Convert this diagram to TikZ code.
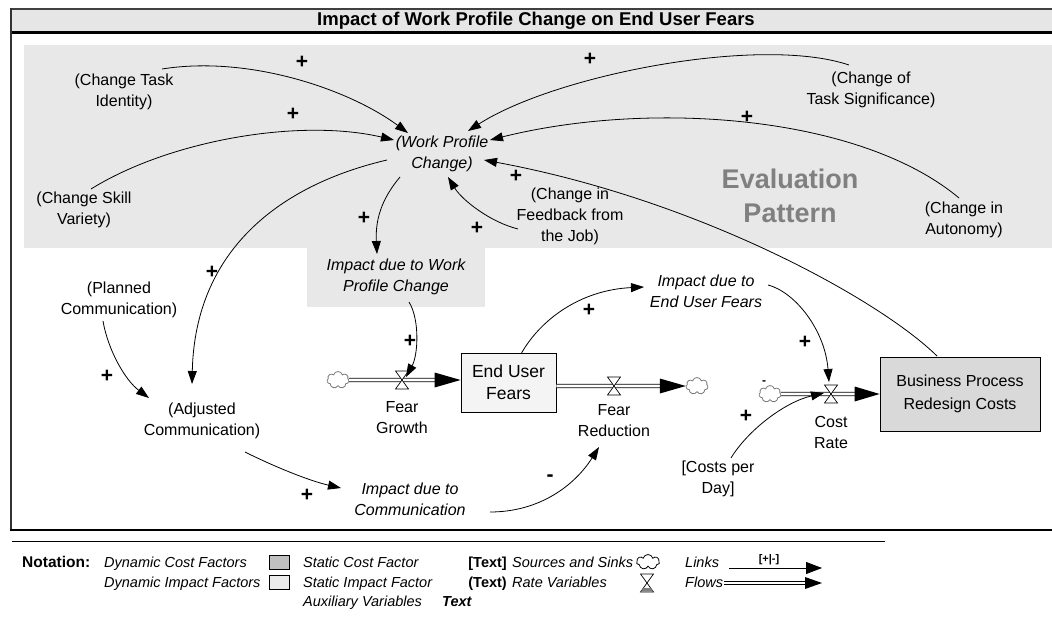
\documentclass[tikz,border=0pt]{standalone}
\usepackage{fontspec}
\setmainfont{Liberation Sans}
\usetikzlibrary{arrows.meta,calc,shapes.symbols}
\definecolor{bandgray}{HTML}{E6E6E6}
\definecolor{regiongray}{HTML}{E8E8E8}
\definecolor{stockfill}{HTML}{F4F4F4}
\definecolor{costfill}{HTML}{D9D9D9}
\definecolor{legdark}{HTML}{C0C0C0}
\definecolor{leglight}{HTML}{EBEBEB}
\definecolor{evalgray}{HTML}{808080}
\definecolor{cloudgray}{HTML}{7A7A7A}
\newcommand\drawvalve[1]{\filldraw[fill=white, line width=0.7pt] ($(#1)+(-6.5,-9)$) -- ($(#1)+(6.5,-9)$) -- ($(#1)+(-6.5,9)$) -- ($(#1)+(6.5,9)$) -- cycle;}
\begin{document}
\begin{tikzpicture}[x=1pt,y=-1pt,
  lbl/.style={align=center, font=\fontsize{16}{21}\selectfont, inner sep=1pt},
  ilbl/.style={align=center, font=\fontsize{16}{21}\selectfont\itshape, inner sep=1pt},
  sign/.style={font=\fontsize{21}{21}\selectfont\bfseries, inner sep=0pt},
  link/.style={-{Triangle[length=13pt,width=9pt]}, line width=0.8pt},
  legarrow/.style={-{Triangle[length=16pt,width=12pt]}, line width=0.8pt},
  flowline/.style={draw=black, line width=0.8pt, double=white, double distance=2.6pt},
  legtext/.style={anchor=base west, font=\fontsize{14.5}{18}\selectfont\itshape, inner sep=0pt},
  legbold/.style={anchor=base east, font=\fontsize{14.5}{18}\selectfont\bfseries, inner sep=0pt},
  srcsink/.style={cloud, cloud puffs=7, draw=cloudgray, fill=white, line width=0.8pt, minimum width=22pt, minimum height=17pt, inner sep=0pt, aspect=1.3},
  stock/.style={draw, line width=0.8pt, align=center, inner sep=0pt}
]
\useasboundingbox (0,0) rectangle (1052,623);
% frame
\fill[bandgray] (11,9) rectangle (1052,32);
\draw[line width=2pt, black!75] (11,9) -- (1052,9);
\draw[line width=3pt] (11,33) -- (1052,33);
\draw[line width=1.5pt, black!80] (11,8) -- (11,530);
\draw[line width=2.5pt] (10,530) -- (1052,530);
\draw[line width=1pt] (12,541) -- (885,541);
\node[font=\fontsize{18.5}{20}\selectfont\bfseries] (title) at (536,20.5) {Impact of Work Profile Change on End User Fears};
% evaluation pattern region
\fill[regiongray] (24,45) rectangle (1052,248);
\node[fill=regiongray, minimum width=178pt, minimum height=59pt, inner sep=0pt, align=center, font=\fontsize{16}{21}\selectfont\itshape] (iwpc) at (396,277) {Impact due to Work\\Profile Change};
\node[font=\fontsize{27}{34}\selectfont\bfseries, text=evalgray, align=center] (eval) at (790,196) {Evaluation\\Pattern};
% text nodes
\node[lbl] (cti) at (124,92) {(Change Task\\Identity)};
\node[lbl] (csv) at (84,210) {(Change Skill\\Variety)};
\node[ilbl] (wpc) at (442,154) {(Work Profile\\Change)};
\node[lbl] (cfj) at (570,216) {(Change in\\Feedback from\\the Job)};
\node[lbl] (cts) at (871,90) {(Change of\\Task Significance)};
\node[lbl] (cau) at (964,220) {(Change in\\Autonomy)};
\node[lbl] (pc) at (119,300) {(Planned\\Communication)};
\node[lbl] (ac) at (202,421) {(Adjusted\\Communication)};
\node[ilbl] (ic) at (410,499) {Impact due to\\Communication};
\node[ilbl] (ieuf) at (706,291) {Impact due to\\End User Fears};
\node[lbl] (cpd) at (718,479) {[Costs per\\Day]};
% stocks
\node[stock, fill=stockfill, minimum width=95pt, minimum height=59pt, font=\fontsize{17.5}{22}\selectfont] (euf) at (508.5,382.5) {End User\\Fears};
\node[stock, fill=costfill, minimum width=160pt, minimum height=74pt, font=\fontsize{16}{23}\selectfont] (bprc) at (960,394) {Business Process\\Redesign Costs};
% sources and sinks
\node[srcsink] (src1) at (338,380) {};
\node[srcsink] (snk1) at (697,386) {};
\node[srcsink] (src2) at (770,394) {};
% valves
\coordinate (fg) at (402,380);
\coordinate (fr) at (614,386);
\coordinate (cr) at (831,394);
% flows
\draw[flowline] (src1.east) -- ($(euf.west)+(-24,-2.5)$);
\fill ($(euf.west)+(-26,-10)$) -- ($(euf.west)+(0,-2.5)$) -- ($(euf.west)+(-26,5)$) -- cycle;
\draw[flowline] ($(euf.east)+(0,3.5)$) -- ($(snk1.west)+(-24,0)$);
\fill ($(snk1.west)+(-26,-7.5)$) -- (snk1.west) -- ($(snk1.west)+(-26,7.5)$) -- cycle;
\draw[flowline] (src2.east) -- ($(bprc.west)+(-24,0)$);
\fill ($(bprc.west)+(-25,-7.5)$) -- (bprc.west) -- ($(bprc.west)+(-25,7.5)$) -- cycle;
\drawvalve{fg}
\drawvalve{fr}
\drawvalve{cr}
\node[lbl] (fgl) at (402,418) {Fear\\Growth};
\node[lbl] (frl) at (614,421) {Fear\\Reduction};
\node[lbl] (crl) at (831,432) {Cost\\Rate};
% links
\draw[link] ($(cti)+(38,-23)$) .. controls (250,55) and (350,90) .. ($(wpc)+(-34,-21)$);
\draw[link] ($(csv)+(7,-21)$) .. controls (170,140) and (300,118) .. ($(wpc)+(-48,-14)$);
\draw[link] ($(wpc)+(-55,6)$) .. controls (280,185) and (195,250) .. ($(ac)+(-10,-37)$);
\draw[link] ($(wpc)+(-42,23)$) .. controls (385,195) and (375,215) .. ($(iwpc)+(-19,-23)$);
\draw[link] ($(cfj)+(-52,13)$) .. controls (490,222) and (462,200) .. ($(wpc)+(6,23)$);
\draw[link] ($(bprc)+(-23,-38)$) .. controls (880,300) and (700,200) .. ($(wpc)+(42,6)$);
\draw[link] ($(cts)+(-22,-25)$) .. controls (760,35) and (555,75) .. ($(wpc)+(26,-23)$);
\draw[link] ($(cau)+(-5,-22)$) .. controls (860,115) and (650,100) .. ($(wpc)+(48,-14)$);
\draw[link] ($(pc)+(-16,21)$) .. controls (108,350) and (125,380) .. ($(ac)+(-53,-23)$);
\draw[link] ($(ac)+(43,31)$) .. controls (275,467) and (310,481) .. ($(ic)+(-69,-11)$);
\draw[link] ($(ic)+(80,13)$) .. controls (540,512) and (575,485) .. ($(frl)+(-15,26)$);
\draw[link] ($(iwpc)+(13,25)$) .. controls (420,320) and (418,355) .. ($(fg)+(4,-3)$);
\draw[link] ($(euf)+(12.5,-28.5)$) .. controls (540,320) and (580,290) .. ($(ieuf)+(-62,-4)$);
\draw[link] ($(ieuf)+(62,-6)$) .. controls (795,292) and (825,330) .. ($(cr)+(-2,-12)$);
\draw[link] ($(cpd)+(13,-21)$) .. controls (748,430) and (785,402) .. ($(cr)+(-7,-1)$);
% signs
\node[sign] (s1) at (302,62) {+};
\node[sign] (s2) at (293,114) {+};
\node[sign] (s3) at (590,59) {+};
\node[sign] (s4) at (747,117) {+};
\node[sign] (s5) at (516,176) {+};
\node[sign] (s6) at (477,228) {+};
\node[sign] (s7) at (364,218) {+};
\node[sign] (s8) at (212,272) {+};
\node[sign] (s9) at (107,376) {+};
\node[sign] (s10) at (410,341) {+};
\node[sign] (s11) at (307,495) {+};
\node[sign] (s12) at (589,310) {+};
\node[sign] (s13) at (805,342) {+};
\node[sign] (s14) at (746,416) {+};
\node[sign] (m1) at (550,478) {-};
\node[font=\fontsize{12}{12}\selectfont\bfseries, inner sep=0pt] (m2) at (764,383) {-};
% legend
\node[anchor=base west, font=\fontsize{15.5}{18}\selectfont\bfseries, inner sep=0pt] (nota) at (22,567) {Notation:};
\node[legtext] (l1) at (104,567) {Dynamic Cost Factors};
\node[draw, fill=legdark, minimum width=20pt, minimum height=14pt, inner sep=0pt] (b1) at (279,562) {};
\node[legtext] (l2) at (104,587) {Dynamic Impact Factors};
\node[draw, fill=leglight, minimum width=20pt, minimum height=14pt, inner sep=0pt] (b2) at (279,582) {};
\node[legtext] (l3) at (303,567) {Static Cost Factor};
\node[legbold] (t1) at (507,567) {[Text]};
\node[legtext] (l4) at (303,587) {Static Impact Factor};
\node[legbold] (t2) at (507,587) {(Text)};
\node[legtext] (l5) at (303,606) {Auxiliary Variables};
\node[anchor=base west, font=\fontsize{14.5}{18}\selectfont\bfseries\itshape, inner sep=0pt] (t3) at (442,606) {Text};
\node[legtext] (l6) at (512,567) {Sources and Sinks};
\node[cloud, cloud puffs=7, draw, line width=0.8pt, minimum width=23pt, minimum height=15pt, inner sep=0pt, aspect=1.5] (lcl) at (648,562) {};
\node[legtext] (l7) at (512,587) {Rate Variables};
\coordinate (lhg) at (647,583);
\drawvalve{lhg}
\fill[gray] ($(lhg)+(-3.5,5)$) -- ($(lhg)+(3.5,5)$) -- ($(lhg)+(6,8.5)$) -- ($(lhg)+(-6,8.5)$) -- cycle;
\node[legtext] (l8) at (685,567) {Links};
\coordinate (lka) at (729,568);
\coordinate (lkb) at (822,568);
\draw[legarrow] (lka) -- (lkb);
\node[font=\fontsize{11}{11}\selectfont\bfseries, inner sep=0pt] (lks) at (769,560) {[+|-]};
\node[legtext] (l9) at (685,587) {Flows};
\coordinate (fla) at (724,583);
\coordinate (flb) at (822,583);
\draw[flowline] (fla) -- ($(flb)+(-15,0)$);
\fill ($(flb)+(-17,-6)$) -- (flb) -- ($(flb)+(-17,6)$) -- cycle;
\end{tikzpicture}
\end{document}
